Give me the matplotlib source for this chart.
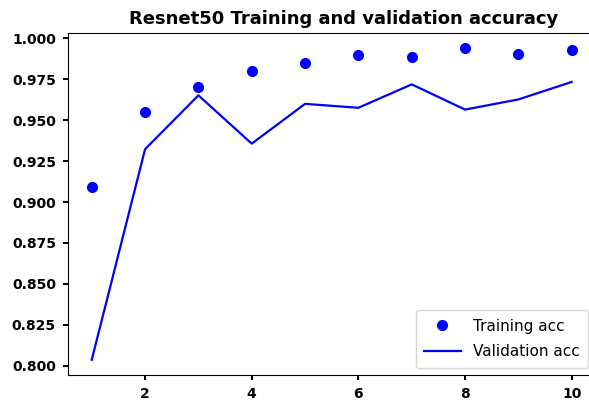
import matplotlib
matplotlib.use("Agg")
import matplotlib.pyplot as plt

epochs = [1, 2, 3, 4, 5, 6, 7, 8, 9, 10]
train_acc = [0.9092, 0.9549, 0.9702, 0.9798, 0.9852, 0.9898, 0.9887, 0.9939, 0.9906, 0.9928]
val_acc = [0.8036, 0.9323, 0.9652, 0.9357, 0.9600, 0.9576, 0.9719, 0.9565, 0.9627, 0.9734]
yticks = [0.800, 0.825, 0.850, 0.875, 0.900, 0.925, 0.950, 0.975, 1.000]
title = "Resnet50 Training and validation accuracy"

fig = plt.figure(figsize=(5.89, 4.04), dpi=100)
ax = fig.add_axes([0.115, 0.0708, 0.8964, 0.848])
ax.plot(epochs, train_acc, 'bo', markersize=7, label='Training acc')
ax.plot(epochs, val_acc, 'b', linewidth=1.6, label='Validation acc')
ax.set_title(title, fontsize=13, fontweight='bold', x=0.522)
ax.set_yticks(yticks)
ax.set_yticklabels([f"{v:.3f}" for v in yticks])
for lbl in ax.get_xticklabels() + ax.get_yticklabels():
    lbl.set_fontweight('bold')
ax.tick_params(width=1.4, pad=5)
ax.legend(loc='lower right', fontsize=11, handlelength=2.4, labelspacing=0.7, borderpad=0.55)
fig.savefig("out.png", dpi=100)
